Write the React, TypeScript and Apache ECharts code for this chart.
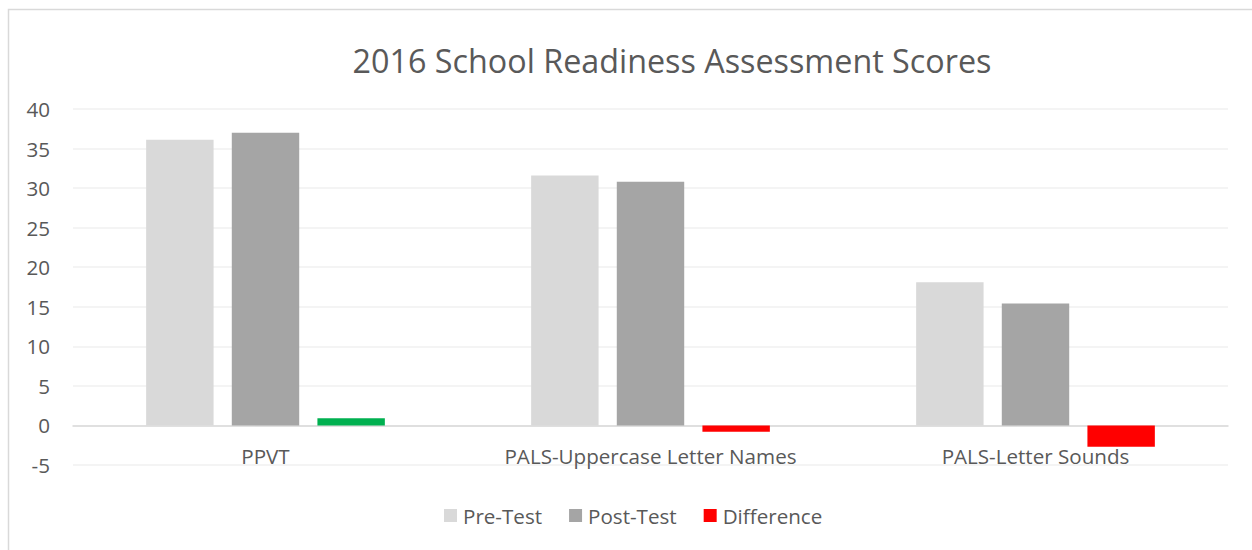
import React, { useEffect, useRef } from "react";
import * as echarts from "echarts";

const categories = ["PPVT", "PALS-Uppercase Letter Names", "PALS-Letter Sounds"];
const preTest = [36.1, 31.6, 18.1];
const postTest = [37.0, 30.8, 15.4];
const difference = [0.9, -0.8, -2.7];
const seriesNames = ["Pre-Test", "Post-Test", "Difference"];
const titleText = "2016 School Readiness Assessment Scores";

const FONT = "Open Sans";
const TEXT = "#595959";

export default function App() {
  const ref = useRef<HTMLDivElement>(null);
  useEffect(() => {
    if (!ref.current) return;
    const chart = echarts.init(ref.current, null, { renderer: "svg" });
    chart.setOption({
      animation: false,
      backgroundColor: "#ffffff",
      textStyle: { fontFamily: FONT },
      title: {
        text: titleText,
        left: 667,
        textAlign: "center",
        top: 39,
        textStyle: { fontFamily: FONT, fontSize: 32.3, fontWeight: "normal", color: TEXT },
      },
      graphic: [
        {
          type: "rect",
          shape: { x: 8.5, y: 9.5, width: 1400, height: 700 },
          style: { fill: "none", stroke: "#d9d9d9", lineWidth: 1.5 },
          silent: true,
          z: -1,
        },
      ],
      legend: {
        left: 444,
        top: 505,
        padding: 0,
        itemWidth: 13,
        itemHeight: 13,
        itemGap: 27,
        icon: "rect",
        data: seriesNames,
        textStyle: { fontFamily: FONT, fontSize: 20.6, color: TEXT, padding: [0, 0, 0, 1] },
      },
      grid: { left: 73, right: 24, top: 109, bottom: 85, containLabel: false },
      xAxis: {
        type: "category",
        data: categories,
        axisLine: { onZero: true, lineStyle: { color: "#d9d9d9", width: 1.5 } },
        axisTick: { show: false },
        axisLabel: { fontFamily: FONT, fontSize: 20.6, color: TEXT, margin: -20 },
      },
      yAxis: {
        type: "value",
        min: -5,
        max: 40,
        interval: 5,
        axisLine: { show: false },
        axisTick: { show: false },
        axisLabel: { fontFamily: FONT, fontSize: 20.6, color: TEXT, margin: 23 },
        splitLine: { lineStyle: { color: "#f0f0f0", width: 1.5 } },
      },
      series: [
        {
          name: seriesNames[0],
          type: "bar",
          data: preTest,
          itemStyle: { color: "#d9d9d9" },
          barGap: "27%",
          barCategoryGap: "38%",
        },
        {
          name: seriesNames[1],
          type: "bar",
          data: postTest,
          itemStyle: { color: "#a5a5a5" },
          barGap: "27%",
          barCategoryGap: "38%",
        },
        {
          name: seriesNames[2],
          type: "bar",
          data: difference.map((v) => ({
            value: v,
            itemStyle: { color: v >= 0 ? "#00b050" : "#ff0000" },
          })),
          itemStyle: { color: "#ff0000" },
          barGap: "27%",
          barCategoryGap: "38%",
        },
      ],
    });
    return () => chart.dispose();
  }, []);
  return (
    <div
      ref={ref}
      style={{ position: "absolute", left: 0, top: 0, width: 1252, height: 550 }}
    />
  );
}
